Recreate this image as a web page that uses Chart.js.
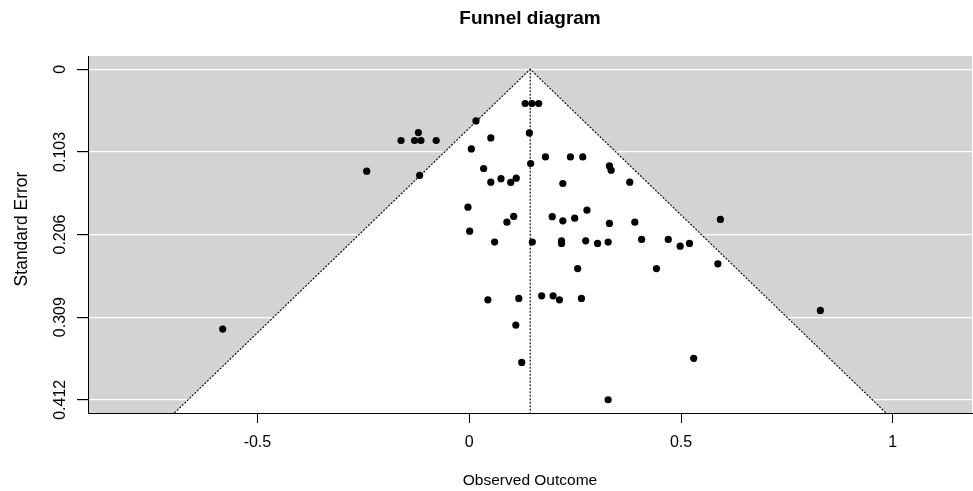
<!DOCTYPE html>
<html>
<head>
<meta charset="utf-8">
<script src="https://cdn.jsdelivr.net/npm/chart.js@4.4.1/dist/chart.umd.min.js"></script>
<style>
  html, body { margin: 0; padding: 0; background: #ffffff; }
  #wrap { width: 973px; height: 491px; }
</style>
</head>
<body>
<div id="wrap"><canvas id="c" width="973" height="491"></canvas></div>
<script>
// ---- data ----
const chartTitle = 'Funnel diagram';
const xTitle = 'Observed Outcome';
const yTitle = 'Standard Error';

const observedOutcome = [
  0.132, 0.148, 0.164, 0.016, -0.120, -0.161, -0.129, -0.114, -0.078, 0.142,
  0.051, 0.005, 0.180, 0.239, 0.268, 0.145, -0.242, -0.117, 0.034, 0.331,
  0.335, 0.051, 0.075, 0.098, 0.111, 0.221, 0.379, -0.003, 0.089, 0.105,
  0.196, 0.221, 0.249, 0.278, 0.331, 0.391, 0.593, 0.001, 0.060, 0.149,
  0.218, 0.218, 0.275, 0.303, 0.328, 0.407, 0.470, 0.498, 0.520, 0.256,
  0.442, 0.587, 0.044, 0.117, 0.171, 0.198, 0.213, 0.265, 0.110, 0.124,
  0.530, 0.328, -0.582, 0.829
];
const standardError = [
  0.0427, 0.0427, 0.0427, 0.0644, 0.0789, 0.0888, 0.0888, 0.0888, 0.0888, 0.0794,
  0.0856, 0.0993, 0.1093, 0.1093, 0.1093, 0.1175, 0.1271, 0.1324, 0.1237, 0.1205,
  0.1258, 0.1408, 0.1364, 0.1411, 0.1358, 0.1424, 0.1408, 0.1719, 0.1906, 0.1835,
  0.1838, 0.1890, 0.1856, 0.1757, 0.1922, 0.1906, 0.1872, 0.2018, 0.2155, 0.2155,
  0.2139, 0.2171, 0.2139, 0.2171, 0.2155, 0.2122, 0.2122, 0.2205, 0.2171, 0.2485,
  0.2485, 0.2426, 0.2874, 0.2857, 0.2824, 0.2824, 0.2874, 0.2857, 0.3189, 0.3654,
  0.3604, 0.4120, 0.3239, 0.3006
];

// funnel outline (vertices) and pooled estimate line
const funnelX  = [-0.696, 0.144, 0.984];
const funnelSE = [0.4285, 0, 0.4285];
const centerX  = [0.144, 0.144];
const centerSE = [0, 0.4285];

const xTickValues = [-0.5, 0, 0.5, 1];
const xTickLabels = ['-0.5', '0', '0.5', '1'];
const yTickValues = [0, 0.103, 0.206, 0.309, 0.412];
const yTickLabels = ['0', '0.103', '0.206', '0.309', '0.412'];

const xRange = [-0.9, 1.187];
const yRange = [-0.0165, 0.4285];

// ---- chart ----
const FONT = "'Liberation Sans', Arial, Helvetica, sans-serif";
Chart.defaults.font.family = FONT;
Chart.defaults.color = '#000';

const points = observedOutcome.map((v, i) => ({ x: v, y: standardError[i] }));
const funnel = funnelX.map((v, i) => ({ x: v, y: funnelSE[i] }));
const center = centerX.map((v, i) => ({ x: v, y: centerSE[i] }));

const bgPlugin = {
  id: 'plotBg',
  beforeDraw(chart) {
    const { ctx, chartArea: a } = chart;
    ctx.save();
    ctx.fillStyle = '#d3d3d3';
    ctx.fillRect(a.left, a.top, a.right - a.left, a.bottom - a.top);
    ctx.restore();
  }
};

const yLabelPlugin = {
  id: 'yLabels',
  afterDraw(chart) {
    const { ctx } = chart;
    const ys = chart.scales.y;
    ctx.save();
    ctx.fillStyle = '#000';
    ctx.textAlign = 'center';
    ctx.textBaseline = 'middle';
    ctx.font = '16px ' + FONT;
    yTickValues.forEach((v, i) => {
      const py = ys.getPixelForValue(v);
      ctx.save();
      ctx.translate(61, py);
      ctx.rotate(-Math.PI / 2);
      ctx.fillText(yTickLabels[i], 0, 0);
      ctx.restore();
    });
    ctx.font = '17.5px ' + FONT;
    ctx.translate(22, 229);
    ctx.rotate(-Math.PI / 2);
    ctx.fillText(yTitle, 0, 0);
    ctx.restore();
  }
};

new Chart(document.getElementById('c'), {
  type: 'scatter',
  data: {
    datasets: [
      {
        type: 'line',
        data: funnel,
        borderColor: '#000',
        borderWidth: 1.1,
        borderDash: [2, 1.5],
        backgroundColor: '#ffffff',
        fill: 'start',
        pointRadius: 0,
        tension: 0,
        order: 3
      },
      {
        type: 'line',
        data: center,
        borderColor: '#000',
        borderWidth: 1.1,
        borderDash: [2, 1.5],
        fill: false,
        pointRadius: 0,
        order: 2
      },
      {
        type: 'scatter',
        data: points,
        pointRadius: 3.6,
        pointBackgroundColor: '#000',
        pointBorderWidth: 0,
        borderWidth: 0,
        order: 1
      }
    ]
  },
  options: {
    responsive: false,
    animation: false,
    devicePixelRatio: 1,
    layout: { autoPadding: false, padding: { left: 0, right: 1, top: 0, bottom: 0 } },
    plugins: {
      legend: { display: false },
      tooltip: { enabled: false },
      title: {
        display: true,
        text: chartTitle,
        fullSize: false,
        font: { size: 19, weight: 'bold', family: FONT },
        color: '#000',
        padding: { top: 7, bottom: 26.2 }
      }
    },
    scales: {
      x: {
        type: 'linear',
        position: 'bottom',
        min: xRange[0],
        max: xRange[1],
        afterBuildTicks(s) { s.ticks = xTickValues.map(v => ({ value: v })); },
        afterFit(s) { s.height = 78; s.paddingLeft = 0; s.paddingRight = 0; },
        ticks: {
          font: { size: 16 },
          color: '#000',
          padding: 10.4,
          maxRotation: 0,
          minRotation: 0,
          callback(v) { const i = xTickValues.indexOf(v); return i >= 0 ? xTickLabels[i] : ''; }
        },
        grid: { drawOnChartArea: false, drawTicks: true, tickLength: 10, color: '#000', tickColor: '#000', lineWidth: 1 },
        border: { display: true, color: '#000', width: 1, z: 1 },
        title: { display: true, text: xTitle, font: { size: 15.5 }, color: '#000', padding: { top: 0, bottom: 0.7 } }
      },
      y: {
        type: 'linear',
        position: 'left',
        reverse: true,
        min: yRange[0],
        max: yRange[1],
        afterBuildTicks(s) { s.ticks = yTickValues.map(v => ({ value: v })); },
        afterFit(s) { s.width = 88; s.paddingTop = 0; s.paddingBottom = 0; },
        ticks: { display: false },
        grid: { drawOnChartArea: true, drawTicks: true, tickLength: 11, color: '#ffffff', tickColor: '#000', lineWidth: 1.2 },
        border: { display: true, color: '#000', width: 1, z: 1 },
        title: { display: false }
      }
    }
  },
  plugins: [bgPlugin, yLabelPlugin]
});
</script>
</body>
</html>
